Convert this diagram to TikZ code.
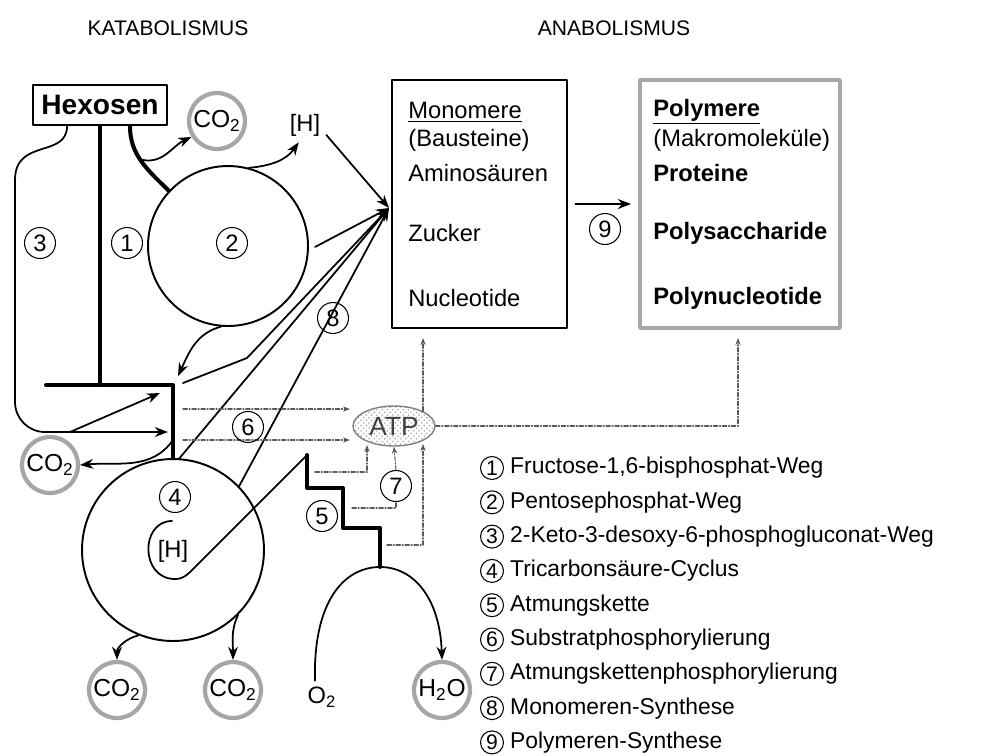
\documentclass[tikz,border=0pt]{standalone}
\usepackage{fontspec}
\setmainfont{Liberation Sans}
\usetikzlibrary{arrows.meta,patterns,calc,shapes.geometric}

\begin{document}
\begin{tikzpicture}[x=0.02cm, y=-0.02cm, line join=round, line cap=round, >=Stealth,
		font=\fontsize{13.5}{15}\selectfont,
		duenn/.style={line width=1pt},
		bahn/.style={line width=2.3pt},
		punktiert/.style={gray!70!black, line width=0.6pt, dash pattern=on 2.5pt off 1pt on 0.6pt off 1pt, >={Stealth[length=4pt,width=3pt]}},
		nr/.style={circle, draw, line width=0.6pt, inner sep=0pt, minimum size=0.62cm},
		gas/.style={circle, draw=gray!70, line width=2.4pt, inner sep=0pt, minimum size=1.12cm, font=\fontsize{14}{16}\selectfont},
		kreis/.style={circle, draw, line width=1.1pt, inner sep=0pt},
		kasten/.style={draw, line width=1.6pt, inner sep=0pt, minimum height=4.96cm}]
	\useasboundingbox (0,0) rectangle (990,755);
	% Ueberschriften
	\node[font=\fontsize{12}{14}\selectfont] (kat) at (168,28) {KATABOLISMUS};
	\node[font=\fontsize{12}{14}\selectfont] (ana) at (614,28) {ANABOLISMUS};
	% Knoten
	\node[draw, line width=1.4pt, minimum width=2.68cm, minimum height=0.8cm, inner sep=0pt, font=\fontsize{16}{18}\selectfont\bfseries] (hex) at (100,105) {Hexosen};
	\node[gas] (co2a) at (217,121) {CO\textsubscript{2}};
	\node (ha) at (305,125) {[H]};
	\node[kreis, minimum size=3.2cm] (pp) at (228,246) {};
	\node[kreis, minimum size=3.64cm] (tca) at (173,550) {};
	\node (hb) at (173,551) {[H]};
	\node[gas] (co2l) at (50,465) {CO\textsubscript{2}};
	\node[gas] (co2b) at (117,690) {CO\textsubscript{2}};
	\node[gas] (co2c) at (233,690) {CO\textsubscript{2}};
	\node (o2) at (322,697) {O\textsubscript{2}};
	\node[gas] (h2o) at (442,690) {H\textsubscript{2}O};
	\node[ellipse, draw=gray, line width=0.8pt, pattern=crosshatch dots, pattern color=gray!70, minimum width=1.64cm, minimum height=0.8cm, inner sep=0pt, text=gray!50!black, font=\fontsize{15}{17}\selectfont] (atp) at (394,426) {ATP};
	\node[kasten, minimum width=3.5cm] (mono) at (479.5,204) {};
	\node[kasten, draw=gray!70, line width=2.2pt, minimum width=4cm] (poly) at (740,204) {};
	% Kasteninhalt
	\foreach \t/\y in {{\underline{Monomere}}/112, {(Bausteine)}/140, Aminosäuren/173, Zucker/233, Nucleotide/298}
		\node[anchor=west, inner sep=0pt] at (408,\y) {\t};
	\foreach \t/\y in {{\textbf{\underline{Polymere}}}/112, {(Makromoleküle)}/140, {\textbf{Proteine}}/173, {\textbf{Polysaccharide}}/233, {\textbf{Polynucleotide}}/298}
		\node[anchor=west, inner sep=0pt] at (653,\y) {\t};
	% Koordinaten
	\coordinate (ziel) at (389,208);
	\coordinate (jt) at (173,385);
	\coordinate (st) at (307,455);
	% Wege 1, 2, 3
	\draw[duenn, ->] ($(hex.south)+(-33,0)$) .. controls +(0,32) and (15,138) .. (15,180) [rounded corners=0.6cm] -- (15,432) -- (168,432);
	\draw[duenn, ->] (70,432) -- (160,393);
	\draw[bahn] (hex.south) -- (hex.south |- jt);
	\draw[bahn] (46,385) -- (jt) -- (tca.north);
	\draw[bahn] ($(hex.south)+(30,0)$) to[out=-90, in=135] (pp.137);
	\draw[duenn, ->] (143,160) to[out=-10, in=205] (co2a.212);
	\draw[duenn, ->] (pp.75) to[out=5, in=-125] (ha.250);
	% zu den Monomeren (8)
	\draw[duenn, ->] (ha.-25) -- (ziel);
	\draw[duenn, ->, shorten <=4pt] (pp.-3) -- (ziel);
	\draw[duenn, ->] (pp.-95) to[out=195, in=65] (178,376);
	\draw[duenn, ->] (183,383) -- (247,358) -- (ziel);
	\draw[duenn, ->] (tca.86) -- (ziel);
	\draw[duenn, ->] (tca.44) -- (ziel);
	% Citratcyclus und Atmungskette
	\draw[duenn, ->] (173,440) to[out=-125, in=5] (co2l.east);
	\draw[duenn, ->] (tca.-112) to[out=195, in=90] (co2b.north);
	\draw[duenn, ->] (tca.-45) to[out=-115, in=90] (co2c.north);
	\draw[duenn] (172,521) .. controls (140,521) and (140,579) .. (175,579) .. controls (184,579) and (188,574) .. (193,569) -- (st);
	\draw[bahn] (st) -- (307,488) -- (343,488) -- (343,528) -- (380,528) -- (380,567) coordinate (sb);
	\draw[duenn] ([xshift=-4pt]o2.north) .. controls (313,600) and (345,567) .. (sb);
	\draw[duenn, ->] (sb) .. controls (415,567) and (440,600) .. (h2o.north);
	% Phosphorylierung
	\draw[punktiert, ->] (183,409) -- (350,409);
	\draw[punktiert, ->] (183,440) -- (350,440);
	\draw[punktiert, ->] (315,472) -| (367,445);
	\node[nr] (n7) at (396,486) {7};
	\draw[punktiert] (352,508) -| (n7.south);
	\draw[punktiert, ->] (n7.north) -- (atp.south);
	\draw[punktiert, ->] (387,545) -| (423,444);
	\draw[punktiert, ->] (423,411) -- (423,338);
	\draw[punktiert, ->] (atp.east) -- (738,426) -- (738,338);
	% Polymeren-Synthese
	\draw[duenn, ->] ([xshift=4pt]mono.east) -- ([xshift=-4pt]poly.west);
	% Nummern
	\foreach \n/\p in {3/{40,243}, 1/{127,243}, 2/{232,243}, 8/{333,318}, 6/{248,427}, 4/{175,497}, 5/{322,516}, 9/{605,229}}
		\node[nr] (n\n) at (\p) {\n};
	% Legende
	\foreach \n/\t [count=\i from 0] in {1/{Fructose-1,6-bisphosphat-Weg}, 2/{Pentosephosphat-Weg}, 3/{2-Keto-3-desoxy-6-phosphogluconat-Weg}, 4/{Tricarbonsäure-Cyclus}, 5/{Atmungskette}, 6/{Substratphosphorylierung}, 7/{Atmungskettenphosphorylierung}, 8/{Monomeren-Synthese}, 9/{Polymeren-Synthese}}
		\node[nr, minimum size=0.46cm, font=\fontsize{12}{14}\selectfont] (l\n) at (492,{468+34.3*\i}) {\n}
			node[anchor=west, font=\fontsize{13}{15}\selectfont] at (l\n.east) {\t};
\end{tikzpicture}
\end{document}
